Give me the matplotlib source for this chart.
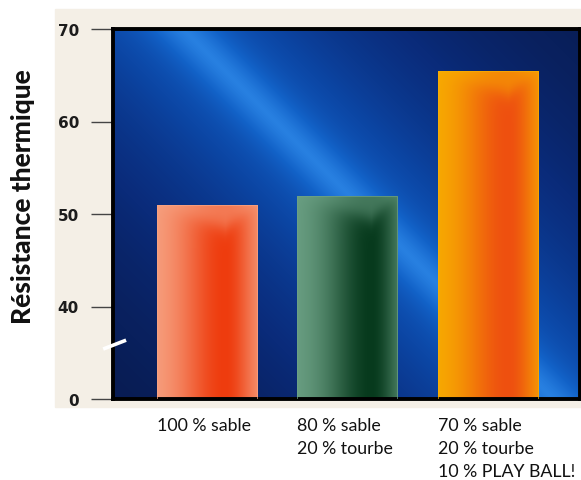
import numpy as np
import matplotlib
matplotlib.use("Agg")
import matplotlib.pyplot as plt
from matplotlib.colors import LinearSegmentedColormap, to_rgb
from matplotlib.patches import Rectangle

# Mixes and their thermal resistance
labels = ["100 % sable", "80 % sable\n20 % tourbe", "70 % sable\n20 % tourbe\n10 % PLAY BALL!"]
resistance = [51, 52, 65.5]
yticks = [0, 40, 50, 60, 70]

# light edge / dark core of each bar
bar_light = ["#f7a686", "#6ea387", "#f8b000"]
bar_core = ["#ee3c0e", "#073a1d", "#ee5010"]
core_pos = [0.68, 0.74, 0.70]


# broken axis: 0-40 squeezed into a quarter of the normal step
def fwd(v):
    v = np.asarray(v, dtype=float)
    return np.where(v >= 40, v, 30 + v / 4)


def inv(v):
    v = np.asarray(v, dtype=float)
    return np.where(v >= 40, v, (v - 30) * 4)


fig = plt.figure(figsize=(5.81, 4.81), dpi=100, facecolor="white")
fig.patches.append(Rectangle((55 / 581, 1 - 408 / 481), 1, 398 / 481,
                             transform=fig.transFigure, color="#f4efe6", zorder=-5))

ax = fig.add_axes([113 / 581, 81 / 481, 467 / 581, 370 / 481])
ax.set_zorder(2)
ax.set_yscale("function", functions=(fwd, inv))
ax.set_ylim(0, 70)
ax.set_xlim(-0.669, 2.655)

# blue backdrop with a soft diagonal light streak
H, W = 370, 467
py, px = np.mgrid[0:H, 0:W]
d = ((px - 80) - (py - 10)) / np.sqrt(2)
b = 0.76 * np.exp(-np.abs(d) / 140) + 0.2 * np.exp(-(d / 26) ** 2)
bg_cmap = LinearSegmentedColormap.from_list(
    "bg", ["#081540", "#0a2b7a", "#0c47a6", "#1262c8", "#2c86e6"])
ax.imshow(np.clip(b, 0, 1), cmap=bg_cmap, vmin=0, vmax=1, extent=(0, 1, 0, 1),
          transform=ax.transAxes, aspect="auto", origin="upper", zorder=0)

x = np.arange(len(labels))
width = 0.712
bars = ax.bar(x, resistance, width=width, bottom=0, facecolor="none",
              edgecolor=bar_light, linewidth=0.6, alpha=0.8, zorder=3)

to_axes = ax.transAxes.inverted()
for patch, light, core, tc in zip(bars, bar_light, bar_core, core_pos):
    ext = patch.get_window_extent()
    (x0, y0), (x1, y1) = to_axes.transform([[ext.x0, ext.y0], [ext.x1, ext.y1]])
    bw, bh = int(round(ext.width)), int(round(ext.height))
    s, t = np.mgrid[0:bh, 0:bw]
    t = t / max(bw - 1, 1)
    v = np.where(t < tc, np.exp(-((t - tc) / 0.45) ** 2), np.exp(-((t - tc) / 0.28) ** 2))
    # bevelled top: dark core fades inside a triangle under the top edge
    tri = 24 * np.where(t < tc, t / tc, (1 - t) / (1 - tc))
    fade = 1 / (1 + np.exp(-(s - tri) / 5))
    v = v * (0.4 + 0.6 * fade)
    lo, hi = np.array(to_rgb(light)), np.array(to_rgb(core))
    img = lo + (hi - lo) * v[..., None]
    im = ax.imshow(img, extent=(x0, x1, y0, y1), transform=ax.transAxes,
                   aspect="auto", origin="upper", zorder=2)
    im.set_clip_path(patch)

# frame
for sp in ax.spines.values():
    sp.set_color("black")
    sp.set_linewidth(2.8)

ax.set_yticks(yticks)
ax.set_yticklabels([str(v) for v in yticks], family="Liberation Sans Narrow",
                   fontweight="bold", fontsize=11, color="#1c1c1c")
ax.tick_params(axis="y", direction="out", length=15.5, width=1, color="#444444", pad=9)
ax.yaxis.set_minor_locator(matplotlib.ticker.NullLocator())

ax.set_xticks(x - width / 2)
ax.set_xticklabels(labels, ha="left", family="Lato", fontsize=12.8, color="#111111",
                   linespacing=1.52)
ax.tick_params(axis="x", length=0, pad=13)

# break mark on the left spine
ax.plot([-0.021, 0.028], [0.135, 0.159], transform=ax.transAxes, color="white",
        lw=2.6, solid_capstyle="butt", clip_on=False, zorder=5)

fig.text(23 / 581, 1 - 197 / 481, "Résistance thermique", rotation=90, ha="center",
         va="center", family="Lato", fontweight="black", fontsize=19, color="#111111")

fig.savefig("out.png", dpi=100)
